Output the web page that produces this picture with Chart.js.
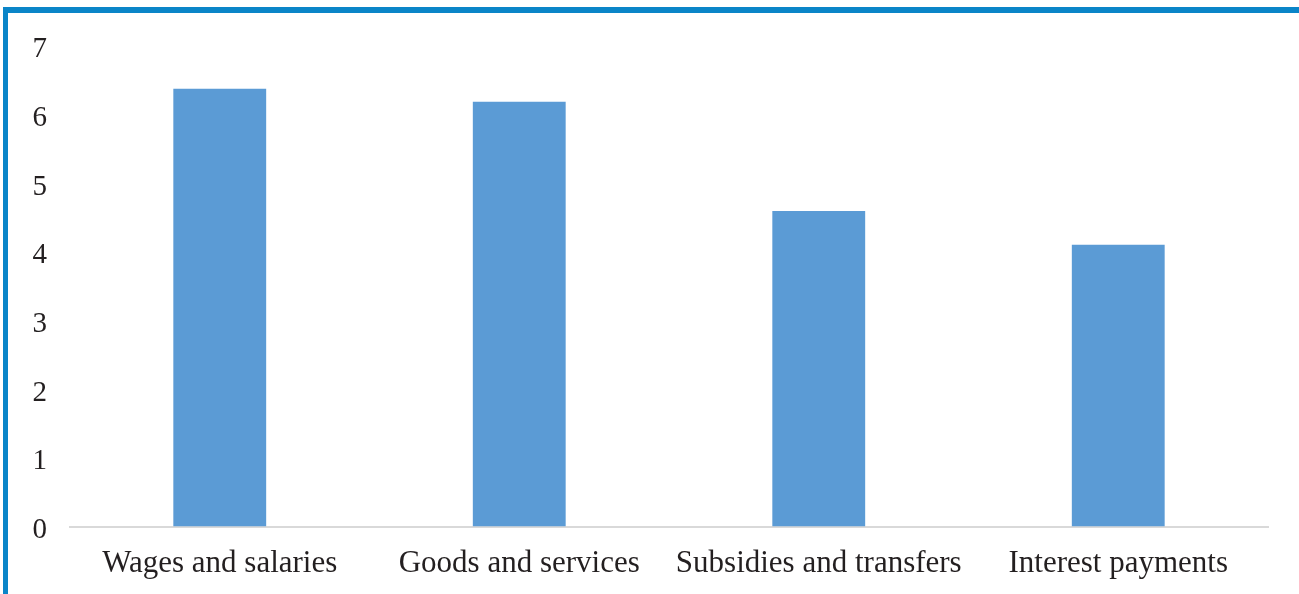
<!DOCTYPE html>
<html lang="en">
<head>
    <meta charset="UTF-8">
    <title>Expenditure by category</title>
    <script src="https://cdn.jsdelivr.net/npm/chart.js"></script>
    <style>
        html, body { margin: 0; padding: 0; background: #fff; overflow: hidden; }
        .wrap { position: relative; width: 1299px; height: 594px; }
        .frame {
            position: absolute; left: 3px; top: 7px; width: 1400px; height: 700px;
            border-top: 6px solid #0a85c8; border-left: 5px solid #0a85c8;
            pointer-events: none;
        }
        canvas { position: absolute; left: 0; top: 0; }
    </style>
</head>
<body>
    <div class="wrap">
        <canvas id="chart" width="1299" height="594"></canvas>
        <div class="frame"></div>
    </div>

    <script>
        const categories = ['Wages and salaries', 'Goods and services', 'Subsidies and transfers', 'Interest payments'];
        const values = [6.37, 6.18, 4.59, 4.10];
        const yTicks = [0, 1, 2, 3, 4, 5, 6, 7];

        const fontFamily = '"Liberation Serif", "DejaVu Serif", serif';
        const textColor = '#231f20';

        new Chart(document.getElementById('chart'), {
            type: 'bar',
            data: {
                labels: categories,
                datasets: [{
                    data: values,
                    backgroundColor: '#5b9bd5',
                    borderWidth: 0,
                    barPercentage: 0.31,
                    categoryPercentage: 1.0
                }]
            },
            options: {
                responsive: false,
                animation: false,
                devicePixelRatio: 1,
                layout: { padding: { left: 0, right: 31, top: 45.5, bottom: 0 } },
                plugins: { legend: { display: false }, tooltip: { enabled: false } },
                scales: {
                    x: {
                        grid: { display: false },
                        border: { display: true, color: '#d9d9d9', width: 2 },
                        ticks: { color: textColor, font: { family: fontFamily, size: 31 }, padding: 11, maxRotation: 0 },
                        afterFit: (axis) => { axis.height = 67.5; }
                    },
                    y: {
                        min: yTicks[0],
                        max: yTicks[yTicks.length - 1],
                        grid: { display: false },
                        border: { display: false },
                        ticks: { stepSize: 1, color: textColor, font: { family: fontFamily, size: 29 }, padding: 15, labelOffset: 4 },
                        afterFit: (axis) => { axis.width = 70; }
                    }
                }
            }
        });
    </script>
</body>
</html>
